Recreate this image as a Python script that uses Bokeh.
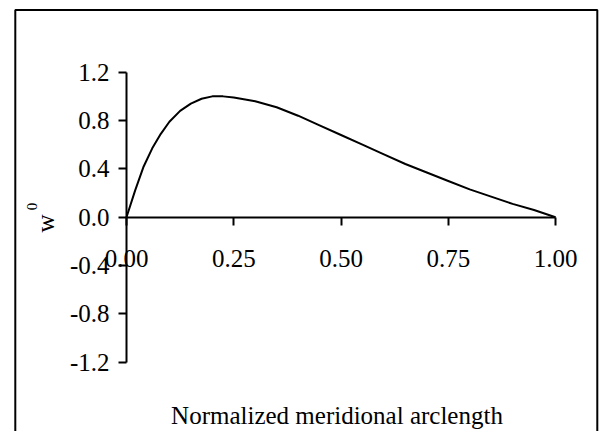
import math
from bokeh.plotting import figure
from bokeh.models import LinearAxis, FixedTicker, NumeralTickFormatter, Label, BoxAnnotation
from bokeh.embed import file_html
from bokeh.resources import INLINE

# ---- data ----
arclength = [0.0, 0.02, 0.04, 0.06, 0.08, 0.10, 0.125, 0.15, 0.175, 0.20, 0.225,
             0.25, 0.30, 0.35, 0.40, 0.45, 0.50, 0.55, 0.60, 0.65, 0.70, 0.75,
             0.80, 0.85, 0.90, 0.95, 1.00]
w0 = [0.0, 0.22, 0.42, 0.57, 0.69, 0.79, 0.88, 0.94, 0.98, 1.00, 1.00,
      0.99, 0.96, 0.91, 0.84, 0.76, 0.68, 0.60, 0.52, 0.44, 0.37, 0.30,
      0.23, 0.17, 0.11, 0.06, 0.00]
x_ticks = [0.0, 0.25, 0.50, 0.75, 1.00]
y_ticks = [-1.2, -0.8, -0.4, 0.0, 0.4, 0.8, 1.2]
x_title = "Normalized meridional arclength"

W, H = 599, 431
# pixel mapping
X0, XS = 126.0, 429.0     # x=0 pixel, px per unit
Y0, YS = 216.7, 120.83    # y=0 pixel, px per unit

def dx(px):
    return (px - X0) / XS

def dy(py):
    return (Y0 - py) / YS

FONT = "Liberation Serif"

p = figure(width=W, height=H, x_range=(dx(0), dx(W)), y_range=(dy(H), dy(0)),
           min_border=0, x_axis_location=None, y_axis_location=None,
           output_backend="svg", toolbar_location=None)
p.grid.visible = False
p.outline_line_color = None
p.background_fill_color = "white"
p.border_fill_color = "white"

xaxis = LinearAxis(fixed_location=0, bounds=(0, 1),
                   ticker=FixedTicker(ticks=x_ticks),
                   formatter=NumeralTickFormatter(format="0.00"))
yaxis = LinearAxis(fixed_location=0, bounds=(-1.2, 1.2),
                   ticker=FixedTicker(ticks=y_ticks),
                   formatter=NumeralTickFormatter(format="0.0"))
for ax in (xaxis, yaxis):
    ax.axis_line_color = "black"
    ax.axis_line_width = 2
    ax.major_tick_line_color = "black"
    ax.major_tick_line_width = 2
    ax.major_tick_in = 0
    ax.major_tick_out = 8
    ax.minor_tick_line_color = None
    ax.major_label_text_font = FONT
    ax.major_label_text_font_size = "25px"
    ax.major_label_text_color = "black"
xaxis.major_label_standoff = 25
yaxis.major_label_standoff = 9
p.add_layout(xaxis, "below")
p.add_layout(yaxis, "left")

p.line(arclength, w0, line_color="black", line_width=2)

# outer border (bottom edge lies below the window)
p.add_layout(BoxAnnotation(left=dx(14.8), right=dx(596.8), top=dy(9.5), bottom=dy(H + 20),
                           fill_color=None, fill_alpha=0, line_color="black",
                           line_width=2, line_alpha=1))

p.add_layout(Label(x=dx(336.5), y=dy(415), text=x_title, text_font=FONT,
                   text_font_size="25px", text_align="center",
                   text_baseline="alphabetic", text_color="black"))
p.add_layout(Label(x=dx(45), y=dy(223), text="w", text_font=FONT,
                   text_font_size="25px", text_align="center",
                   text_baseline="alphabetic", angle=math.pi / 2, text_color="black"))
p.add_layout(Label(x=dx(31), y=dy(206), text="0", text_font=FONT,
                   text_font_size="15px", text_align="center",
                   text_baseline="alphabetic", angle=math.pi / 2, text_color="black"))

open("out.html", "w").write(file_html(p, INLINE))
